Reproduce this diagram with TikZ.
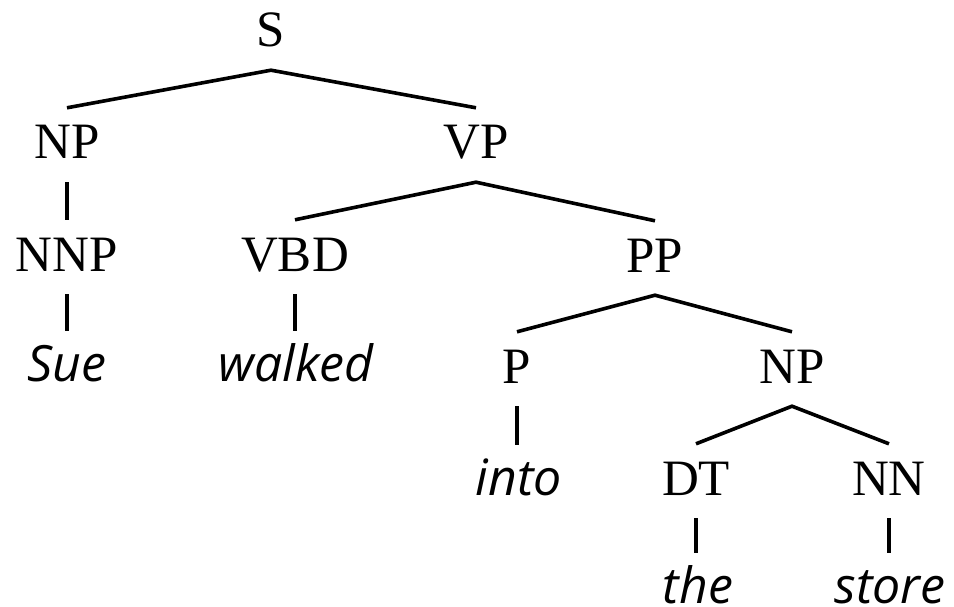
\documentclass[tikz,border=0pt]{standalone}
\usepackage{fontspec}
\setmainfont{Liberation Serif}
\newfontfamily\wordfont{Open Sans}
\usetikzlibrary{positioning}

\begin{document}
\begin{tikzpicture}[x=1pt, y=-1pt,
    cat/.style={anchor=base, inner sep=0pt, text height=51pt, text depth=23pt, font=\fontsize{51}{51}\selectfont},
    word/.style={anchor=base, inner sep=0pt, text height=50pt, text depth=1pt, font=\wordfont\itshape\fontsize{50}{50}\selectfont},
    branch/.style={line width=3.6pt}]
    \useasboundingbox (0,0) rectangle (954,607);

    % Categories
    \node[cat] (S) at (271,47) {S};
    \node[cat] (NPa) at (67,159) {NP};
    \node[cat] (VP) at (476,159) {VP};
    \node[cat] (NNP) at (67,271) {NNP};
    \node[cat] (VBD) at (295,271) {VBD};
    \node[cat] (PP) at (655,272) {PP};
    \node[cat] (P) at (517,383) {P};
    \node[cat] (NPb) at (792,383) {NP};
    \node[cat] (DT) at (696,495) {DT};
    \node[cat] (NN) at (889,495) {NN};

    % Words
    \node[word] (sue) at (67,381) {Sue};
    \node[word] (walked) at (296,381) {walked};
    \node[word] (into) at (519,495) {into};
    \node[word] (the) at (698,603) {the};
    \node[word] (store) at (890,603) {store};

    % Branches
    \draw[branch] (NPa.north) -- (S.south) -- (VP.north);
    \draw[branch] (VBD.north) -- (VP.south) -- (PP.north);
    \draw[branch] (P.north) -- (PP.south) -- (NPb.north);
    \draw[branch] (DT.north) -- (NPb.south) -- (NN.north);
    \draw[branch] (NPa.south) -- (NNP.north);
    \draw[branch] (NNP.south) -- (NNP.south |- sue.north);
    \draw[branch] (VBD.south) -- (VBD.south |- walked.north);
    \draw[branch] (P.south) -- (P.south |- into.north);
    \draw[branch] (DT.south) -- (DT.south |- the.north);
    \draw[branch] (NN.south) -- (NN.south |- store.north);
\end{tikzpicture}
\end{document}
